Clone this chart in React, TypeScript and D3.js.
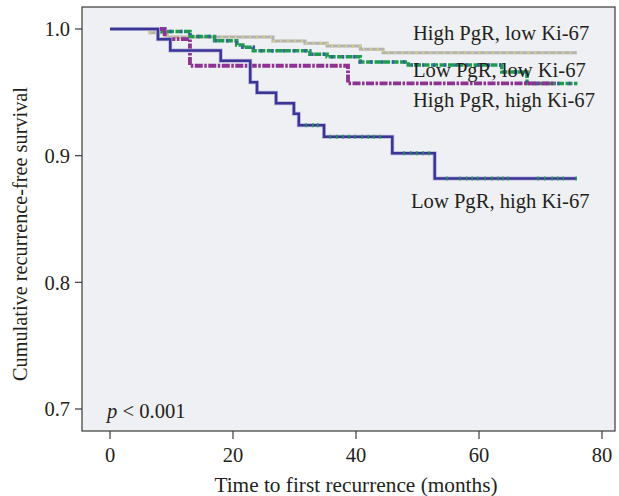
import React from "react";
import * as d3 from "d3";

// Kaplan–Meier step data: [time (months), survival]
const highPgrLowKiTimes = [0, 6.5, 9.3, 26.5, 31.7, 35.3, 40.7, 44.4, 75.9];
const highPgrLowKiSurv = [1.0, 0.997, 0.9937, 0.9905, 0.9887, 0.9866, 0.984, 0.9813, 0.9813];

const lowPgrLowKiTimes = [0, 8.5, 13, 17, 20.6, 21.6, 23.3, 32.5, 35.3, 40.7, 48.5, 63.7, 67.8, 76];
const lowPgrLowKiSurv = [1.0, 0.998, 0.994, 0.9908, 0.9874, 0.9855, 0.9829, 0.98, 0.978, 0.974, 0.9716, 0.966, 0.957, 0.957];

const highPgrHighKiTimes = [0, 8.9, 13, 38.7, 72.5];
const highPgrHighKiSurv = [1.0, 0.992, 0.971, 0.957, 0.957];

const lowPgrHighKiTimes = [0, 7.8, 9.8, 18, 22.8, 23.9, 27.0, 29.9, 30.7, 34.8, 45.9, 52.8, 75.8];
const lowPgrHighKiSurv = [1.0, 0.992, 0.983, 0.975, 0.958, 0.9497, 0.9414, 0.933, 0.924, 0.915, 0.902, 0.882, 0.882];
const lowPgrHighKiCensor = [31.9, 33.0, 33.8, 35.8, 36.9, 37.9, 38.9, 39.8, 41.0, 42.0, 42.9, 43.9,
  47.8, 48.9, 49.9, 50.9, 51.9, 54.8, 56.9, 58.0, 58.9, 59.8, 61.0, 62.1, 63.1, 63.9, 64.7,
  69.6, 70.7, 71.9, 72.8, 73.7, 75.8];

const seriesLabels = ["High PgR, low Ki-67", "Low PgR, low Ki-67", "High PgR, high Ki-67", "Low PgR, high Ki-67"];
const xTicks = [0, 20, 40, 60, 80];
const yTicks = [0.7, 0.8, 0.9, 1.0];

const W = 619, H = 496;
const frame = { left: 82, right: 615, top: 7, bottom: 431 };
const FONT = "'Liberation Serif', 'Times New Roman', serif";
const TXT = "#231f20";

export default function App() {
  const x = d3.scaleLinear().domain([0, 80]).range([110, 602]);
  const y = d3.scaleLinear().domain([0.7, 1.0]).range([409, 29]);

  const line = d3.line<[number, number]>()
    .x(d => x(d[0]))
    .y(d => y(d[1]))
    .curve(d3.curveStepAfter);

  const zip = (t: number[], s: number[]) => t.map((v, i) => [v, s[i]] as [number, number]);

  const gray = line(zip(highPgrLowKiTimes, highPgrLowKiSurv)) || "";
  const green = line(zip(lowPgrLowKiTimes, lowPgrLowKiSurv)) || "";
  const purple = line(zip(highPgrHighKiTimes, highPgrHighKiSurv)) || "";
  const blue = line(zip(lowPgrHighKiTimes, lowPgrHighKiSurv)) || "";

  const survAt = (t: number) => {
    let s = lowPgrHighKiSurv[0];
    for (let i = 0; i < lowPgrHighKiTimes.length; i++) if (lowPgrHighKiTimes[i] <= t) s = lowPgrHighKiSurv[i];
    return s;
  };

  return (
    <svg width={W} height={H} style={{ position: "absolute", left: 0, top: 0, background: "#fff" }}>
      <rect x={frame.left} y={frame.top} width={frame.right - frame.left} height={frame.bottom - frame.top}
        fill="#eff0f3" stroke="#3a3a3a" strokeWidth={1.2} />

      {/* y axis ticks */}
      {yTicks.map(t => (
        <g key={"y" + t}>
          <line x1={frame.left - 7} x2={frame.left} y1={y(t)} y2={y(t)} stroke="#3a3a3a" strokeWidth={1.2} />
          <text x={frame.left - 12} y={y(t)} dy="0.35em" textAnchor="end" fontFamily={FONT} fontSize={20.5} fill={TXT}>
            {t.toFixed(1)}
          </text>
        </g>
      ))}
      {/* x axis ticks */}
      {xTicks.map(t => (
        <g key={"x" + t}>
          <line x1={x(t)} x2={x(t)} y1={frame.bottom} y2={frame.bottom + 8} stroke="#3a3a3a" strokeWidth={1.2} />
          <text x={x(t)} y={frame.bottom + 31} textAnchor="middle" fontFamily={FONT} fontSize={20.5} fill={TXT}>
            {t}
          </text>
        </g>
      ))}
      <text x={356} y={492} textAnchor="middle" fontFamily={FONT} fontSize={21.3} fill={TXT}>
        Time to first recurrence (months)
      </text>
      <text transform={`translate(27,234) rotate(-90)`} textAnchor="middle"
        fontFamily={FONT} fontSize={20.3} fill={TXT}>
        Cumulative recurrence-free survival
      </text>

      {/* curves */}
      <path d={gray} fill="none" stroke="#b3b3b3" strokeWidth={3} />
      <path d={gray} fill="none" stroke="#d6cc8e" strokeWidth={3} strokeDasharray="2 5" />

      <path d={green} fill="none" stroke="#1d9b4f" strokeWidth={3.5} strokeDasharray="7 1.5" />
      <path d={green} fill="none" stroke="#3b5aaa" strokeWidth={3.5} strokeDasharray="2 9" strokeDashoffset={-7} />

      <path d={purple} fill="none" stroke="#8e3293" strokeWidth={3.8} strokeDasharray="8 1.5 2.5 1.5" />

      <path d={blue} fill="none" stroke="#b9b6d8" strokeWidth={4} />
      <path d={blue} fill="none" stroke="#3a3597" strokeWidth={2.5} />
      {lowPgrHighKiCensor.map((t, i) => (
        <line key={"c" + i} x1={x(t)} x2={x(t)} y1={y(survAt(t)) - 2} y2={y(survAt(t)) + 2}
          stroke="#1d9b4f" strokeWidth={1.5} />
      ))}

      {/* labels */}
      <text x={413} y={40} fontFamily={FONT} fontSize={20.6} fill={TXT}>{seriesLabels[0]}</text>
      <text x={413} y={77} fontFamily={FONT} fontSize={20.6} fill={TXT}>{seriesLabels[1]}</text>
      <text x={413} y={107} fontFamily={FONT} fontSize={20.6} fill={TXT}>{seriesLabels[2]}</text>
      <text x={411} y={208} fontFamily={FONT} fontSize={20.6} fill={TXT}>{seriesLabels[3]}</text>

      <text x={107} y={418} fontFamily={FONT} fontSize={20.6} fill={TXT}>
        <tspan fontStyle="italic">p</tspan> &lt; 0.001
      </text>
    </svg>
  );
}
